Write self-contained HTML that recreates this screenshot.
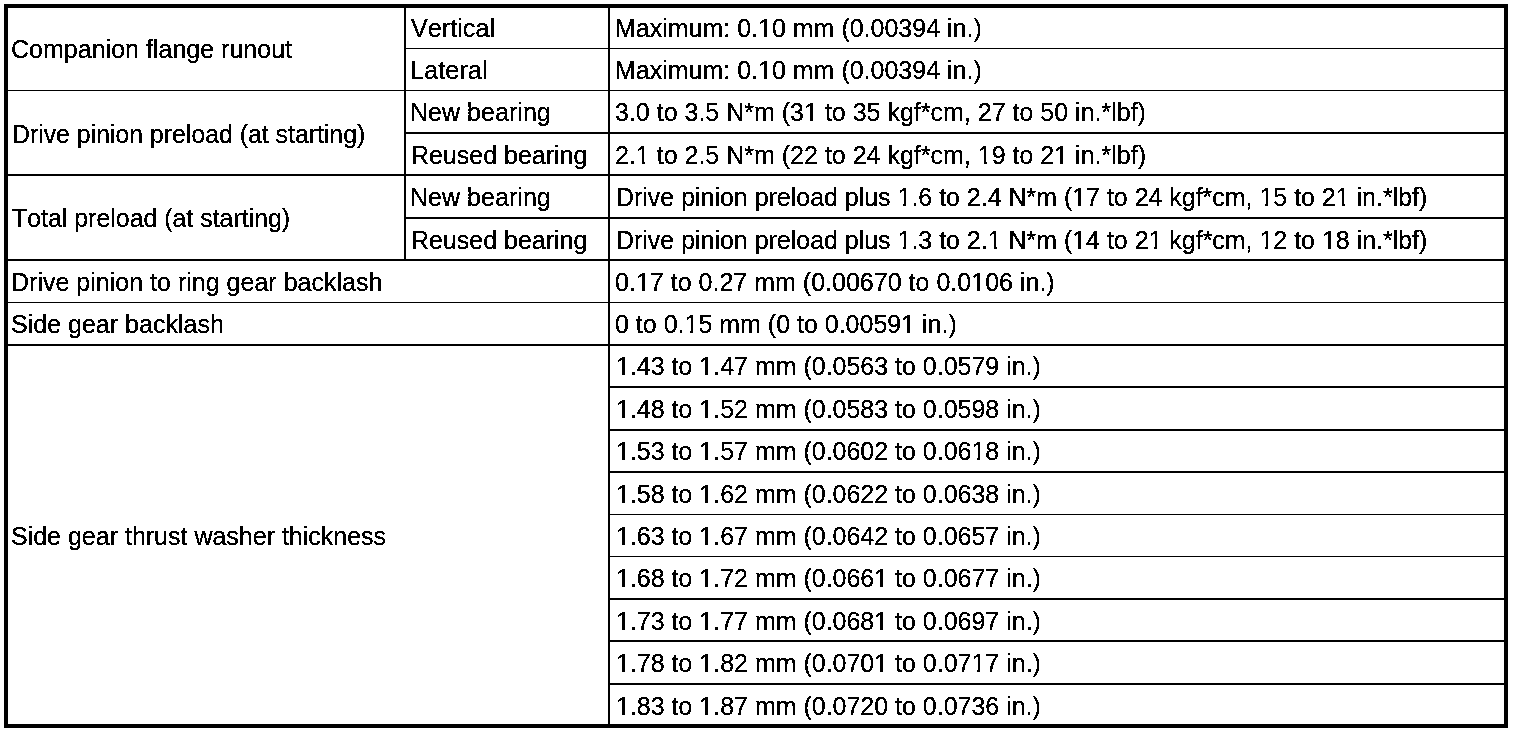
<!DOCTYPE html>
<html><head><meta charset="utf-8"><title>Differential specifications</title>
<style>
html,body{margin:0;padding:0;background:#fff;}
body{font-kerning:none;font-feature-settings:"kern" 0,"liga" 0;width:1520px;height:734px;position:relative;overflow:hidden;font-family:"Liberation Sans",sans-serif;color:#000;}
.box{position:absolute;left:4px;top:4px;width:1496px;height:716px;border:4px solid #000;}
.txt{position:absolute;left:0;top:0;width:1520px;height:734px;filter:url(#thr);}
.h,.v{position:absolute;background:#000;}
.o{display:inline-block;clip-path:polygon(0 0,14px 0,14px 27px,8.7px 27px,8.7px 40px,6.1px 40px,6.1px 27px,0 27px);}
.t{position:absolute;white-space:nowrap;font-size:25px;line-height:40px;height:40px;transform-origin:0 29px;}
</style></head><body>
<svg width="0" height="0" style="position:absolute"><defs><filter id="thr" x="0" y="0" width="100%" height="100%" color-interpolation-filters="sRGB"><feComponentTransfer><feFuncA type="discrete" tableValues="0 0 0 1 1 1 1 1 1 1"/></feComponentTransfer></filter></defs></svg>
<div class="box"></div>
<div class="v" style="left:404px;top:8px;width:2px;height:252px"></div>
<div class="v" style="left:608px;top:8px;width:2px;height:716px"></div>
<div class="h" style="left:406px;top:48px;width:1098px;height:1px"></div>
<div class="h" style="left:8px;top:90px;width:1496px;height:1px"></div>
<div class="h" style="left:406px;top:132px;width:1098px;height:2px"></div>
<div class="h" style="left:8px;top:174px;width:1496px;height:2px"></div>
<div class="h" style="left:406px;top:217px;width:1098px;height:2px"></div>
<div class="h" style="left:8px;top:259px;width:1496px;height:2px"></div>
<div class="h" style="left:8px;top:302px;width:1496px;height:1px"></div>
<div class="h" style="left:8px;top:344px;width:1496px;height:2px"></div>
<div class="h" style="left:610px;top:386px;width:894px;height:2px"></div>
<div class="h" style="left:610px;top:429px;width:894px;height:2px"></div>
<div class="h" style="left:610px;top:471px;width:894px;height:2px"></div>
<div class="h" style="left:610px;top:514px;width:894px;height:1px"></div>
<div class="h" style="left:610px;top:556px;width:894px;height:1px"></div>
<div class="h" style="left:610px;top:598px;width:894px;height:2px"></div>
<div class="h" style="left:610px;top:640px;width:894px;height:2px"></div>
<div class="h" style="left:610px;top:683px;width:894px;height:2px"></div>
<div class="txt">
<div class="t" style="left:11.20px;top:29.00px;transform:scale(1.00108,1.045)">Companion flange runout</div>
<div class="t" style="left:11.60px;top:113.60px;transform:scale(0.99304,1.045)">Drive pinion preload (at starting)</div>
<div class="t" style="left:11.80px;top:198.00px;transform:scale(0.99586,1.045)">Total preload (at starting)</div>
<div class="t" style="left:11.30px;top:262.00px;transform:scale(1.00109,1.045)">Drive pinion to ring gear backlash</div>
<div class="t" style="left:10.80px;top:304.00px;transform:scale(1.00096,1.045)">Side gear backlash</div>
<div class="t" style="left:11.20px;top:516.00px;transform:scale(0.99973,1.045)">Side gear thrust washer thickness</div>
<div class="t" style="left:411.40px;top:8.00px;transform:scale(1.00748,1.045)">Vertical</div>
<div class="t" style="left:409.80px;top:50.00px;transform:scale(1.01514,1.045)">Lateral</div>
<div class="t" style="left:409.80px;top:92.00px;transform:scale(1.00293,1.045)">New bearing</div>
<div class="t" style="left:410.90px;top:135.00px;transform:scale(1.00000,1.045)">Reused bearing</div>
<div class="t" style="left:409.80px;top:177.00px;transform:scale(1.00293,1.045)">New bearing</div>
<div class="t" style="left:410.90px;top:220.00px;transform:scale(1.00000,1.045)">Reused bearing</div>
<div class="t" style="left:614.70px;top:8.00px;transform:scale(0.99973,1.045)">Maximum: 0.<span class="o">1</span>0 mm (0.00394 in.)</div>
<div class="t" style="left:614.70px;top:50.00px;transform:scale(0.99973,1.045)">Maximum: 0.<span class="o">1</span>0 mm (0.00394 in.)</div>
<div class="t" style="left:615.30px;top:92.00px;transform:scale(1.00019,1.045)">3.0 to 3.5 N*m (3<span class="o">1</span> to 35 kgf*cm, 27 to 50 in.*lbf)</div>
<div class="t" style="left:615.30px;top:135.00px;transform:scale(1.00019,1.045)">2.<span class="o">1</span> to 2.5 N*m (22 to 24 kgf*cm, <span class="o">1</span>9 to 2<span class="o">1</span> in.*lbf)</div>
<div class="t" style="left:616.30px;top:177.00px;transform:scale(0.99790,1.045)">Drive pinion preload plus <span class="o">1</span>.6 to 2.4 N*m (<span class="o">1</span>7 to 24 kgf*cm, <span class="o">1</span>5 to 2<span class="o">1</span> in.*lbf)</div>
<div class="t" style="left:616.30px;top:220.00px;transform:scale(0.99790,1.045)">Drive pinion preload plus <span class="o">1</span>.3 to 2.<span class="o">1</span> N*m (<span class="o">1</span>4 to 2<span class="o">1</span> kgf*cm, <span class="o">1</span>2 to <span class="o">1</span>8 in.*lbf)</div>
<div class="t" style="left:615.30px;top:262.00px;transform:scale(1.00115,1.045)">0.<span class="o">1</span>7 to 0.27 mm (0.00670 to 0.0<span class="o">1</span>06 in.)</div>
<div class="t" style="left:615.30px;top:304.00px;transform:scale(0.99971,1.045)">0 to 0.<span class="o">1</span>5 mm (0 to 0.0059<span class="o">1</span> in.)</div>
<div class="t" style="left:616.00px;top:346.00px;transform:scale(0.99905,1.045)"><span class="o">1</span>.43 to <span class="o">1</span>.47 mm (0.0563 to 0.0579 in.)</div>
<div class="t" style="left:616.00px;top:389.00px;transform:scale(0.99905,1.045)"><span class="o">1</span>.48 to <span class="o">1</span>.52 mm (0.0583 to 0.0598 in.)</div>
<div class="t" style="left:616.00px;top:431.00px;transform:scale(0.99905,1.045)"><span class="o">1</span>.53 to <span class="o">1</span>.57 mm (0.0602 to 0.06<span class="o">1</span>8 in.)</div>
<div class="t" style="left:616.00px;top:474.00px;transform:scale(0.99905,1.045)"><span class="o">1</span>.58 to <span class="o">1</span>.62 mm (0.0622 to 0.0638 in.)</div>
<div class="t" style="left:616.00px;top:516.00px;transform:scale(0.99905,1.045)"><span class="o">1</span>.63 to <span class="o">1</span>.67 mm (0.0642 to 0.0657 in.)</div>
<div class="t" style="left:616.00px;top:558.00px;transform:scale(0.99905,1.045)"><span class="o">1</span>.68 to <span class="o">1</span>.72 mm (0.066<span class="o">1</span> to 0.0677 in.)</div>
<div class="t" style="left:616.00px;top:601.00px;transform:scale(0.99905,1.045)"><span class="o">1</span>.73 to <span class="o">1</span>.77 mm (0.068<span class="o">1</span> to 0.0697 in.)</div>
<div class="t" style="left:616.00px;top:643.00px;transform:scale(0.99905,1.045)"><span class="o">1</span>.78 to <span class="o">1</span>.82 mm (0.070<span class="o">1</span> to 0.07<span class="o">1</span>7 in.)</div>
<div class="t" style="left:616.00px;top:686.00px;transform:scale(0.99905,1.045)"><span class="o">1</span>.83 to <span class="o">1</span>.87 mm (0.0720 to 0.0736 in.)</div>
</div>
</body></html>
